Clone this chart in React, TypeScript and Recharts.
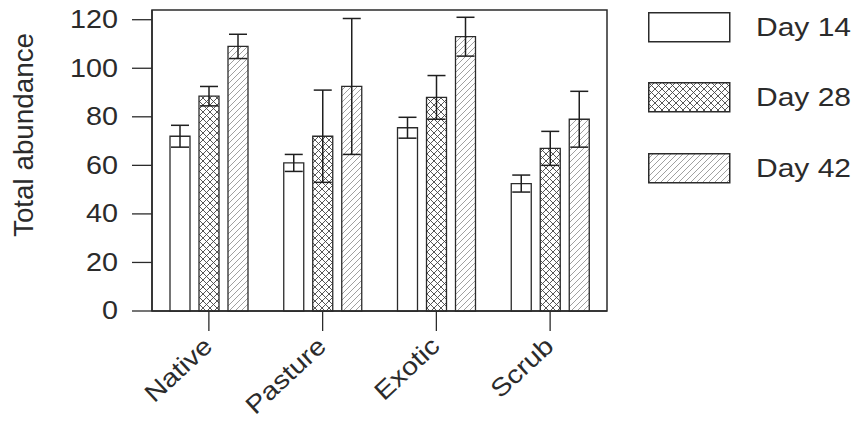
import { Bar, BarChart, ErrorBar, Legend, ReferenceArea, XAxis, YAxis } from "recharts";

const categories = ["Native", "Pasture", "Exotic", "Scrub"];
const day14 = [72, 61, 75.5, 52.5];
const day28 = [88.5, 72, 88, 67];
const day42 = [109, 92.5, 113, 79];
const err14 = [4.5, 3.5, 4.3, 3.5];
const err28 = [4, 19, 9, 7];
const err42 = [5, 28, 8, 11.5];
const yTicks = [0, 20, 40, 60, 80, 100, 120];

const data = categories.map((site, i) => ({
    site,
    d14: day14[i],
    d28: day28[i],
    d42: day42[i],
    e14: err14[i],
    e28: err28[i],
    e42: err42[i],
}));

const INK = "#2b2b2b";
const FONT = "'Liberation Sans', Arial, Helvetica, sans-serif";

const SERIES = [
    { key: "d14", err: "e14", name: "Day 14", fill: "#ffffff" },
    { key: "d28", err: "e28", name: "Day 28", fill: "url(#crossHatch)" },
    { key: "d42", err: "e42", name: "Day 42", fill: "url(#diagHatch)" },
];

function Patterns() {
    return (
        <svg width={0} height={0} style={{ position: "absolute" }}>
            <defs>
                <pattern id="crossHatch" patternUnits="userSpaceOnUse" width={7} height={7}>
                    <rect width={7} height={7} fill="#fff" />
                    <path d="M0,0 L7,7 M7,0 L0,7" stroke="#444" strokeWidth={0.9} />
                </pattern>
                <pattern id="diagHatch" patternUnits="userSpaceOnUse" width={6} height={6}>
                    <rect width={6} height={6} fill="#fff" />
                    <path d="M0,6 L6,0 M-1,1 L1,-1 M5,7 L7,5" stroke="#888" strokeWidth={0.8} />
                </pattern>
            </defs>
        </svg>
    );
}

function YTick({ x, y, payload }: any) {
    return (
        <text
            transform={`translate(${x},${y}) scale(1.15,1)`}
            textAnchor="end"
            dominantBaseline="central"
            fontSize={25}
            fontFamily={FONT}
            fill={INK}
        >
            {payload.value}
        </text>
    );
}

function XTick({ x, y, payload }: any) {
    return (
        <text
            transform={`translate(${x + 5},${y + 15}) rotate(-43) scale(1.15,1)`}
            textAnchor="end"
            fontSize={25}
            fontFamily={FONT}
            fill={INK}
        >
            {payload.value}
        </text>
    );
}

function YLabel() {
    return (
        <text
            transform="translate(24,135) rotate(-90) scale(1.03,1)"
            textAnchor="middle"
            dominantBaseline="central"
            fontSize={27}
            fontFamily={FONT}
            fill={INK}
        >
            Total abundance
        </text>
    );
}

function LegendBox({ payload }: any) {
    const items = payload ?? [];
    return (
        <div style={{ fontFamily: FONT }}>
            {items.map((entry: any, i: number) => (
                <div key={entry.value} style={{ display: "flex", alignItems: "center", height: 30, marginBottom: i < items.length - 1 ? 40.5 : 0 }}>
                    <svg width={83} height={31} style={{ display: "block" }}>
                        <rect x={0.75} y={0.75} width={81} height={29} fill={entry.color ?? SERIES[i].fill} stroke={INK} strokeWidth={1.5} />
                    </svg>
                    <span style={{ marginLeft: 25, fontSize: 25, color: INK, display: "inline-block", transform: "scale(1.2,1)", transformOrigin: "left center", whiteSpace: "nowrap" }}>
                        {entry.value}
                    </span>
                </div>
            ))}
        </div>
    );
}

export default function App() {
    return (
        <div style={{ position: "absolute", left: 0, top: 0, background: "#fff" }}>
            <Patterns />
            <BarChart
                width={852}
                height={422}
                data={data}
                margin={{ top: 10, right: 245, left: 0, bottom: 0 }}
                barSize={20}
                barGap={9}
            >
                <XAxis
                    dataKey="site"
                    height={111}
                    tickSize={20}
                    tick={<XTick />}
                    axisLine={{ stroke: INK, strokeWidth: 1.5 }}
                    tickLine={{ stroke: INK, strokeWidth: 1.3 }}
                    interval={0}
                />
                <YAxis
                    width={152}
                    domain={[0, 124]}
                    ticks={yTicks}
                    tickSize={20}
                    tickMargin={14}
                    tick={<YTick />}
                    axisLine={{ stroke: INK, strokeWidth: 1.5 }}
                    tickLine={{ stroke: INK, strokeWidth: 1.3 }}
                    label={<YLabel />}
                />
                <Legend
                    layout="horizontal"
                    align="center"
                    verticalAlign="middle"
                    content={<LegendBox />}
                    wrapperStyle={{ left: 648, top: 12, width: 204, height: "auto" }}
                />
                {SERIES.map((s) => (
                    <Bar key={s.key} dataKey={s.key} name={s.name} fill={s.fill} stroke={INK} strokeWidth={1.3} isAnimationActive={false}>
                        <ErrorBar dataKey={s.err} width={9} stroke="#1f1f1f" strokeWidth={1.5} direction="y" />
                    </Bar>
                ))}
                <ReferenceArea y1={0} y2={124} fill="none" stroke={INK} strokeWidth={1.5} />
            </BarChart>
        </div>
    );
}
